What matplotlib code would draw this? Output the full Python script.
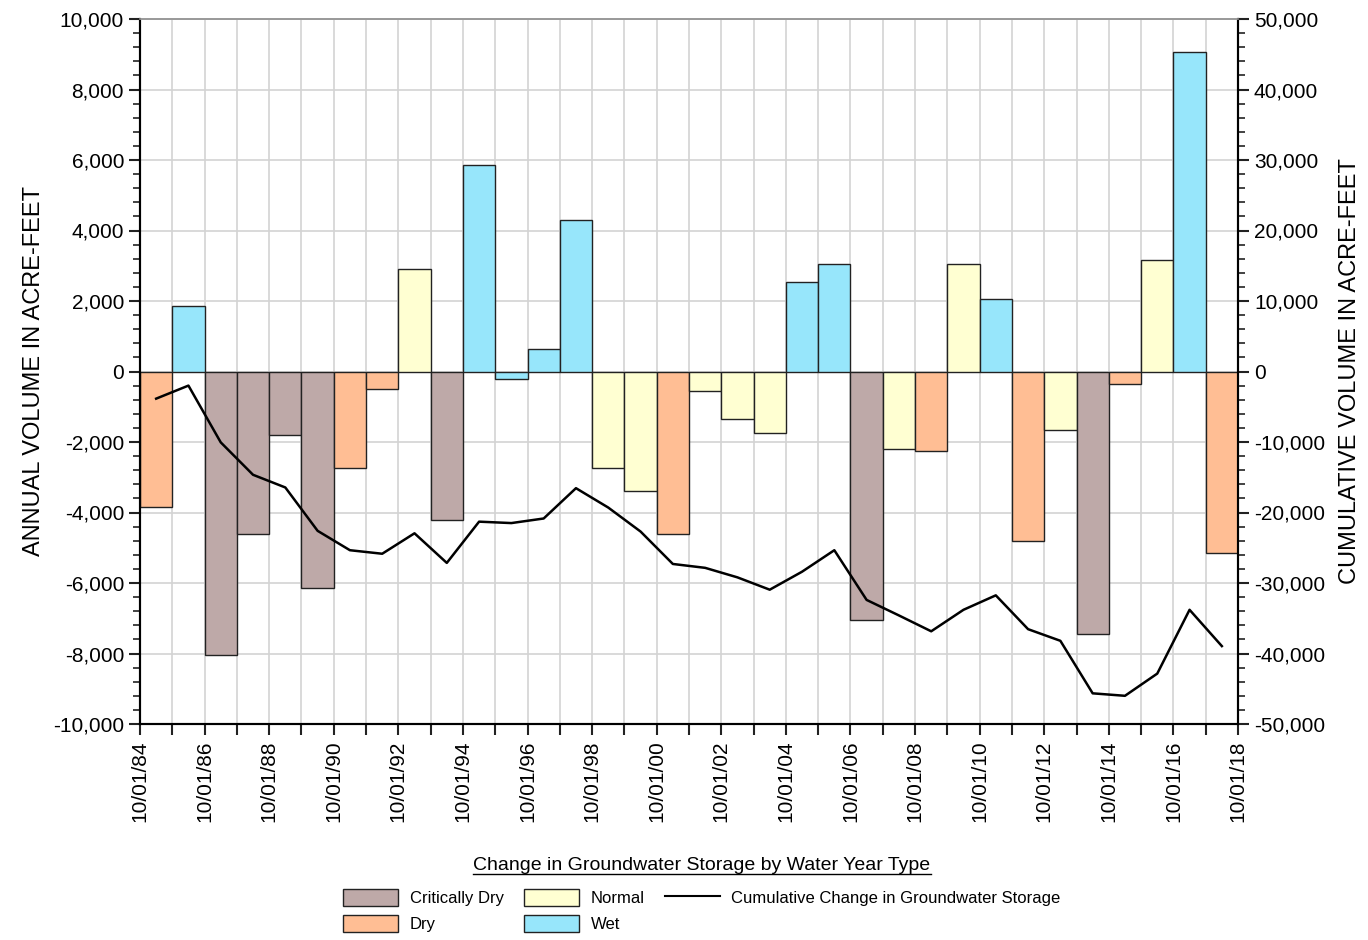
import matplotlib
matplotlib.use("Agg")
import matplotlib.pyplot as plt
from matplotlib.patches import Patch
from matplotlib.lines import Line2D
from matplotlib.ticker import MultipleLocator, FuncFormatter

# ---- data ----
water_year_start = list(range(1984, 2018))  # water years starting 10/01/YY
year_type = ["Dry", "Wet", "Critically Dry", "Critically Dry", "Critically Dry", "Critically Dry",
             "Dry", "Dry", "Normal", "Critically Dry", "Wet", "Wet", "Wet", "Wet",
             "Normal", "Normal", "Dry", "Normal", "Normal", "Normal", "Wet", "Wet",
             "Critically Dry", "Normal", "Dry", "Normal", "Wet", "Dry", "Normal",
             "Critically Dry", "Dry", "Normal", "Wet", "Dry"]
annual_change = [-3850, 1850, -8050, -4600, -1800, -6150, -2750, -500, 2900, -4200,
                 5850, -200, 650, 4300, -2750, -3400, -4600, -550, -1350, -1750,
                 2550, 3050, -7050, -2200, -2250, 3050, 2050, -4800, -1650, -7450,
                 -350, 3150, 9050, -5150]
cumulative_change = [-3850, -2000, -10050, -14650, -16450, -22600, -25350, -25850, -22950, -27150,
                     -21300, -21500, -20850, -16550, -19300, -22700, -27300, -27850, -29200, -30950,
                     -28400, -25350, -32400, -34600, -36850, -33800, -31750, -36550, -38200, -45650,
                     -46000, -42850, -33800, -38950]
tick_years = list(range(1984, 2019, 2))

type_colors = {"Critically Dry": "#BEA9A8", "Dry": "#FFBE94",
               "Normal": "#FFFFD2", "Wet": "#97E6FB"}

FONT = ["Liberation Sans", "DejaVu Sans"]
plt.rcParams["font.family"] = FONT

fig = plt.figure(figsize=(13.68, 9.40), dpi=100)
ax = fig.add_axes([140/1368, 1 - 724/940, (1238-140)/1368, (724-19)/940])
ax2 = ax.twinx()

# bars
ax.bar(water_year_start, annual_change, width=1.0, align="edge",
       color=[type_colors[t] for t in year_type], edgecolor="#222222",
       linewidth=1.0, zorder=2)

ax.set_xlim(1984, 2018)
ax.set_ylim(-10000, 10000)
ax2.set_ylim(-50000, 50000)

# cumulative line on secondary axis
mid = [y + 0.5 for y in water_year_start]
ax2.plot(mid, cumulative_change, color="black", linewidth=1.8, zorder=3)

# grid
ax.set_axisbelow(True)
ax.yaxis.set_major_locator(MultipleLocator(2000))
ax.yaxis.set_minor_locator(MultipleLocator(400))
ax.set_xticks(tick_years)
ax.xaxis.set_minor_locator(MultipleLocator(1))
ax.grid(True, which="major", axis="y", color="#D3D3D3", linewidth=1.2, zorder=0)
ax.grid(True, which="both", axis="x", color="#D3D3D3", linewidth=1.2, zorder=0)

ax2.yaxis.set_major_locator(MultipleLocator(10000))
ax2.yaxis.set_minor_locator(MultipleLocator(2000))

fmt = FuncFormatter(lambda v, p: f"{int(v):,}")
ax.yaxis.set_major_formatter(fmt)
ax2.yaxis.set_major_formatter(fmt)
ax.xaxis.set_major_formatter(FuncFormatter(lambda v, p: f"10/01/{int(v) % 100:02d}"))

for a in (ax, ax2):
    a.tick_params(axis="both", which="major", direction="out", length=8, width=1.5,
                  labelsize=15, color="#222222")
    a.tick_params(axis="both", which="minor", direction="out", length=5, width=1.2,
                  color="#222222")
ax.tick_params(axis="x", which="major", labelrotation=90, pad=4)
ax.tick_params(axis="x", which="minor", length=8, width=1.5)

for a in (ax, ax2):
    a.spines["top"].set_color("#999999")
    a.spines["top"].set_linewidth(1.2)
    a.spines["left"].set_linewidth(1.5)
    a.spines["right"].set_linewidth(1.5)
    a.spines["bottom"].set_linewidth(1.5)

ax.set_ylabel("ANNUAL VOLUME IN ACRE-FEET", fontsize=17, labelpad=6)
ax2.set_ylabel("CUMULATIVE VOLUME IN ACRE-FEET", fontsize=17, labelpad=10)

# legend
handles = [Patch(facecolor=type_colors["Critically Dry"], edgecolor="#222222", label="Critically Dry"),
           Patch(facecolor=type_colors["Dry"], edgecolor="#222222", label="Dry"),
           Patch(facecolor=type_colors["Normal"], edgecolor="#222222", label="Normal"),
           Patch(facecolor=type_colors["Wet"], edgecolor="#222222", label="Wet"),
           Line2D([], [], color="black", linewidth=1.5, label="Cumulative Change in Groundwater Storage")]
leg = fig.legend(handles=handles, ncol=3, loc="center",
                 bbox_to_anchor=(702/1368, 1 - 910.5/940), frameon=False,
                 prop={"size": 12}, handlelength=3.3, handleheight=1.2,
                 columnspacing=1.2, handletextpad=0.7, labelspacing=0.55,
                 borderpad=0.2)

title = fig.text(702/1368, 1 - 866/940, "Change in Groundwater Storage by Water Year Type",
                 ha="center", va="center", fontsize=14)
fig.canvas.draw()
bb = title.get_window_extent().transformed(fig.transFigure.inverted())
fig.add_artist(Line2D([bb.x0, bb.x1], [bb.y0 + 0.001, bb.y0 + 0.001],
                      transform=fig.transFigure, color="black", linewidth=1.0))

fig.savefig("out.png", dpi=100)
